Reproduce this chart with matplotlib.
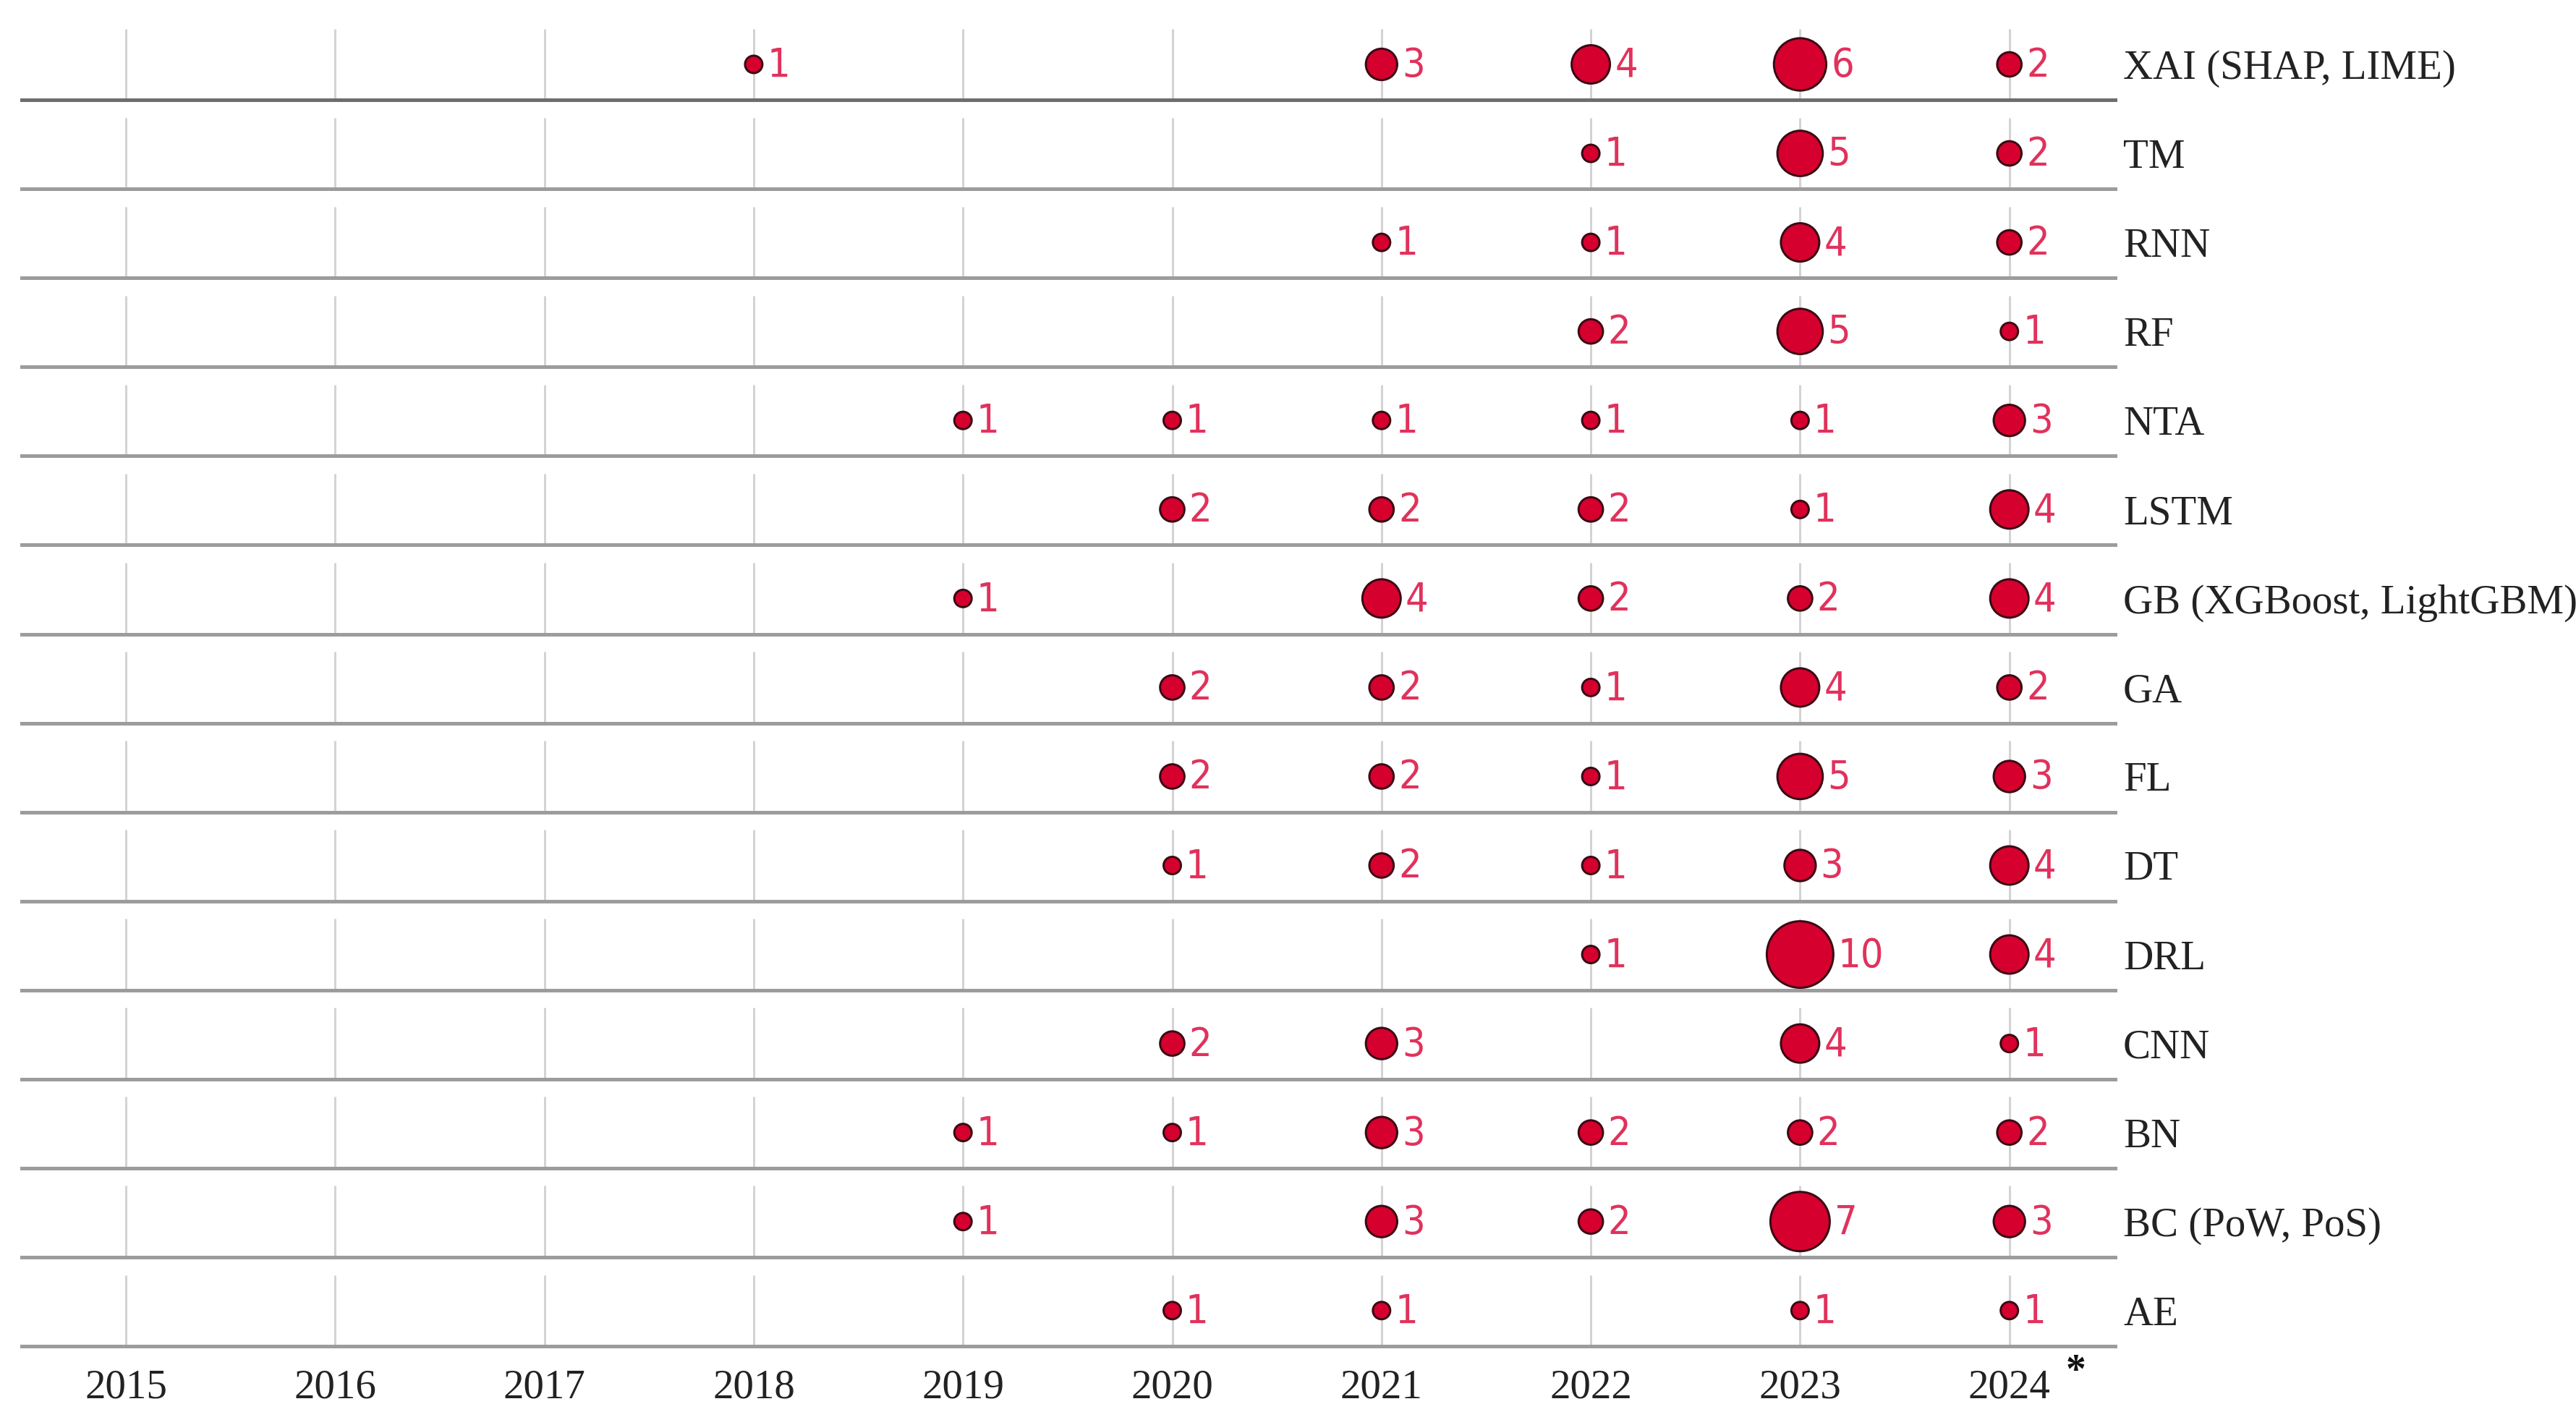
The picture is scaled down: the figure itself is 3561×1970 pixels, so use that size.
import numpy as np
import matplotlib
matplotlib.use('Agg')
from matplotlib import pyplot as plt
from matplotlib import font_manager

# years on the x axis
years = [2015, 2016, 2017, 2018, 2019, 2020, 2021, 2022, 2023, 2024]

# methods, top to bottom
methods = ['XAI (SHAP, LIME)', 'TM', 'RNN', 'RF', 'NTA', 'LSTM',
           'GB (XGBoost, LightGBM)', 'GA', 'FL', 'DT', 'DRL', 'CNN', 'BN',
           'BC (PoW, PoS)', 'AE']

# publications per year (0 = none), 2015..2024
xai = [0, 0, 0, 1, 0, 0, 3, 4, 6, 2]
tm = [0, 0, 0, 0, 0, 0, 0, 1, 5, 2]
rnn = [0, 0, 0, 0, 0, 0, 1, 1, 4, 2]
rf = [0, 0, 0, 0, 0, 0, 0, 2, 5, 1]
nta = [0, 0, 0, 0, 1, 1, 1, 1, 1, 3]
lstm = [0, 0, 0, 0, 0, 2, 2, 2, 1, 4]
gb = [0, 0, 0, 0, 1, 0, 4, 2, 2, 4]
ga = [0, 0, 0, 0, 0, 2, 2, 1, 4, 2]
fl = [0, 0, 0, 0, 0, 2, 2, 1, 5, 3]
dt = [0, 0, 0, 0, 0, 1, 2, 1, 3, 4]
drl = [0, 0, 0, 0, 0, 0, 0, 1, 10, 4]
cnn = [0, 0, 0, 0, 0, 2, 3, 0, 4, 1]
bn = [0, 0, 0, 0, 1, 1, 3, 2, 2, 2]
bc = [0, 0, 0, 0, 1, 0, 3, 2, 7, 3]
ae = [0, 0, 0, 0, 0, 1, 1, 0, 1, 1]

rows = [xai, tm, rnn, rf, nta, lstm, gb, ga, fl, dt, drl, cnn, bn, bc, ae]

W, H, DPI = 3562, 1970, 100
PT = 72.0 / DPI  # points per pixel

fill = '#d5002e'
edge = '#3a0a14'
num_color = '#e0325c'
serif = ['Liberation Serif', 'DejaVu Serif']

# narrow sans for the counts, whatever is installed
installed = font_manager.fontManager.ttflist
names = {f.name for f in installed}
if 'Liberation Sans Narrow' in names:
    narrow, stretch = 'Liberation Sans Narrow', 'normal'
elif any(f.name == 'DejaVu Sans' and f.stretch == 'condensed' for f in installed):
    narrow, stretch = 'DejaVu Sans', 'condensed'
else:
    narrow, stretch = 'Liberation Sans', 'normal'

fig = plt.figure(figsize=(W / DPI, H / DPI), dpi=DPI)
# axes box: separator extent horizontally, last separator to top edge vertically
left_px, right_px, bottom_px = 30, 2924, 1861
ax = fig.add_axes([left_px / W, (H - bottom_px) / H,
                   (right_px - left_px) / W, bottom_px / H])

n = len(methods)
ypos = np.arange(n)[::-1]  # top row gets the highest value
step_px = 123.07
x0_px, dx_px = 174, 289.3

ax.set_xlim(2015 + (left_px - x0_px) / dx_px, 2015 + (right_px - x0_px) / dx_px)
ax.set_ylim(-0.4, (n - 1) + 89 / step_px)

# light grid segments inside each row
for y in ypos:
    ax.vlines(years, y - 0.4, y + 0.4, color='#d3d3d3', lw=3 * PT, zorder=1)

# row separators
for k, y in enumerate(ypos):
    c = '#6e6e6e' if k == 0 else '#9c9c9c'
    ax.axhline(y - 0.4, color=c, lw=5 * PT, zorder=2, clip_on=False)

# bubbles and counts
for y, vals in zip(ypos, rows):
    vals = np.array(vals, dtype=float)
    mask = vals > 0
    xs = np.array(years)[mask]
    vs = vals[mask]
    diam = np.interp(vs, [1, 7, 10], [27, 85, 95])
    ax.scatter(xs, np.full(len(xs), y), s=((diam - 3) * PT) ** 2,
               color=fill, edgecolor=edge, linewidth=3 * PT, zorder=3,
               clip_on=False)
    for xv, v, d in zip(xs, vs, diam):
        ax.annotate(str(int(v)), (xv, y), xytext=((d / 2 + 5) * PT, -2 * PT),
                    textcoords='offset points', ha='left', va='center',
                    color=num_color, fontsize=40, family=narrow,
                    fontstretch=stretch, zorder=4)

for s in ax.spines.values():
    s.set_visible(False)

ax.set_xticks(years)
ax.set_xticklabels([str(y) for y in years], family=serif, fontsize=41,
                   color='#222222')
ax.tick_params(axis='x', length=0, pad=23)

ax.yaxis.tick_right()
ax.set_yticks(ypos)
ax.set_yticklabels(methods, family=serif, fontsize=41, color='#222222')
ax.tick_params(axis='y', length=0, pad=8)
for lab in ax.get_yticklabels():
    lab.set_verticalalignment('center_baseline')

# footnote marker next to the last year
ax.text(2024.316, -0.69, '*', ha='center', va='center', fontsize=40,
        fontweight='bold', color='#111111', family=serif, clip_on=False)

fig.savefig('out.png', dpi=DPI)
